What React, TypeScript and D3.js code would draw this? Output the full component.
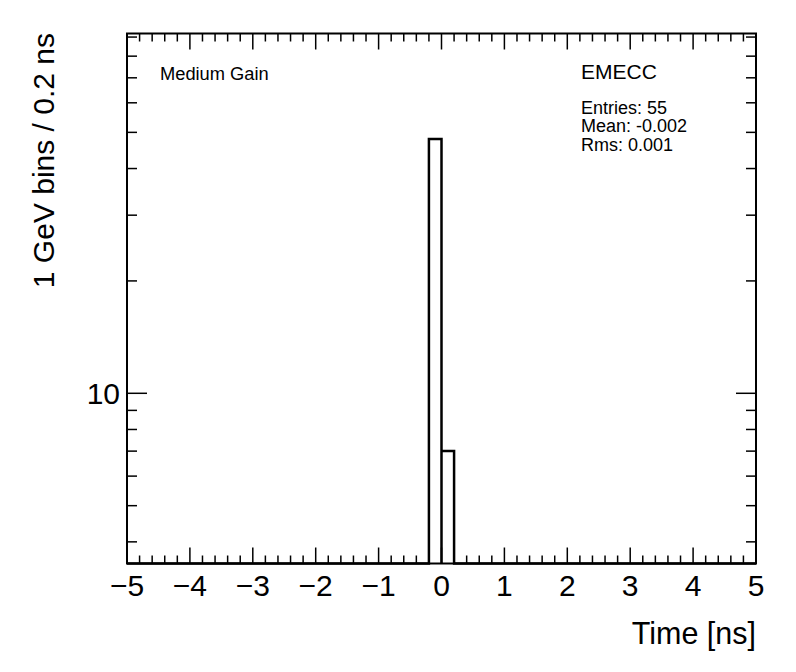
import * as d3 from "d3";
import { useEffect, useRef } from "react";

// histogram content (only non-empty bins), bin width 0.2 ns
const binLow = [-0.2, 0.0];
const binCount = [48, 7];
const binWidth = 0.2;

const xTickValues = [-5, -4, -3, -2, -1, 0, 1, 2, 3, 4, 5];
const yMajorTicks = [10];
const yMinorTicks = [4, 5, 6, 7, 8, 9, 20, 30, 40, 50, 60, 70, 80, 90];

const statLines = ["Entries: 55", "Mean: -0.002", "Rms: 0.001"];

const FONT = "'Liberation Sans', Arial, Helvetica, sans-serif";

const App = () => {
    const ref = useRef<SVGSVGElement>(null);

    useEffect(() => {
        const W = 796,
            H = 672;
        const frame = { left: 127, right: 756, top: 33.5, bottom: 563.5 };

        const svg = d3.select(ref.current);
        svg.selectAll("*").remove();

        svg.append("rect").attr("width", W).attr("height", H).attr("fill", "#fff");

        const x = d3.scaleLinear().domain([-5, 5]).range([frame.left, frame.right]);
        const y = d3.scaleLog().domain([3.5, 92]).range([frame.bottom, frame.top]);

        // histogram outline
        const pts: [number, number][] = [[x(-5), frame.bottom]];
        binLow.forEach((lo, i) => {
            pts.push([x(lo), frame.bottom]);
            pts.push([x(lo), y(binCount[i])]);
            pts.push([x(lo + binWidth), y(binCount[i])]);
            if (i === binLow.length - 1 || binLow[i + 1] !== lo + binWidth) {
                pts.push([x(lo + binWidth), frame.bottom]);
            }
        });
        pts.push([x(5), frame.bottom]);
        svg
            .append("path")
            .attr("d", d3.line()(pts))
            .attr("fill", "none")
            .attr("stroke", "#000")
            .attr("stroke-width", 2.5);

        // ticks
        const ticks = svg.append("g").attr("stroke", "#000").attr("stroke-width", 1.5);
        const xMinor = d3.range(-5, 5.0001, 0.2);
        xMinor.forEach((v) => {
            const isMajor = Math.abs(v - Math.round(v)) < 1e-6;
            const len = isMajor ? 16 : 8;
            ticks.append("line")
                .attr("x1", x(v)).attr("x2", x(v))
                .attr("y1", frame.bottom).attr("y2", frame.bottom - len);
            ticks.append("line")
                .attr("x1", x(v)).attr("x2", x(v))
                .attr("y1", frame.top).attr("y2", frame.top + len);
        });
        const yTickAll = [
            ...yMajorTicks.map((v) => ({ v, len: 20 })),
            ...yMinorTicks.map((v) => ({ v, len: 10 })),
        ];
        yTickAll.forEach(({ v, len }) => {
            ticks.append("line")
                .attr("x1", frame.left).attr("x2", frame.left + len)
                .attr("y1", y(v)).attr("y2", y(v));
            ticks.append("line")
                .attr("x1", frame.right).attr("x2", frame.right - len)
                .attr("y1", y(v)).attr("y2", y(v));
        });

        // frame
        svg.append("rect")
            .attr("x", frame.left)
            .attr("y", frame.top)
            .attr("width", frame.right - frame.left)
            .attr("height", frame.bottom - frame.top)
            .attr("fill", "none")
            .attr("stroke", "#000")
            .attr("stroke-width", 2);

        // tick labels
        svg.append("g")
            .selectAll("text")
            .data(xTickValues)
            .join("text")
            .attr("x", (d) => x(d))
            .attr("y", 596)
            .attr("text-anchor", "middle")
            .style("font-family", FONT)
            .style("font-size", "30px")
            .text((d) => (d < 0 ? "\u2212" + Math.abs(d) : String(d)));

        svg.append("g")
            .selectAll("text")
            .data(yMajorTicks)
            .join("text")
            .attr("x", 120)
            .attr("y", (d) => y(d) + 11)
            .attr("text-anchor", "end")
            .style("font-family", FONT)
            .style("font-size", "30px")
            .text((d) => String(d));

        // axis titles
        svg.append("text")
            .attr("x", 756)
            .attr("y", 644)
            .attr("text-anchor", "end")
            .style("font-family", FONT)
            .style("font-size", "30.5px")
            .text("Time [ns]");

        svg.append("text")
            .attr("transform", "translate(54,33) rotate(-90)")
            .attr("text-anchor", "end")
            .style("font-family", FONT)
            .style("font-size", "30px")
            .text("1 GeV bins / 0.2 ns");

        // labels
        svg.append("text")
            .attr("x", 160)
            .attr("y", 80)
            .style("font-family", FONT)
            .style("font-size", "18.3px")
            .text("Medium Gain");

        svg.append("text")
            .attr("x", 581)
            .attr("y", 79)
            .style("font-family", FONT)
            .style("font-size", "21px")
            .text("EMECC");

        svg.append("g")
            .selectAll("text")
            .data(statLines)
            .join("text")
            .attr("x", 581)
            .attr("y", (d, i) => 113.5 + i * 18.5)
            .style("font-family", FONT)
            .style("font-size", "18px")
            .text((d) => d);
    }, []);

    return <svg width={796} height={672} ref={ref} style={{ display: "block", position: "absolute", left: 0, top: 0 }} />;
};

export default App;
